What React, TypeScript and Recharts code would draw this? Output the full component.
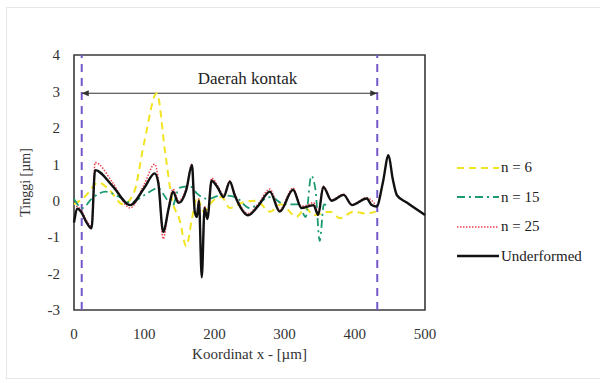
import {
	Line,
	LineChart,
	ReferenceArea,
	ReferenceLine,
	XAxis,
	YAxis,
} from "recharts";

// x positions [µm] and heights [µm]
const underX = [0, 5, 10, 18, 25, 30, 55, 80, 100, 115, 120, 127, 135, 141, 149, 160, 168, 172, 175, 178, 182, 186, 190, 196, 205, 213, 222, 229, 248, 262, 279, 293, 312, 324, 335, 341, 348, 355, 367, 384, 396, 417, 424, 431, 440, 448, 454, 460, 474, 500];
const underY = [-0.6, -0.22, -0.3, -0.6, -0.76, 0.84, 0.4, -0.12, 0.35, 0.75, 0.5, -0.85, -0.2, 0.25, -0.06, 0.3, 0.98, -0.3, -0.45, 0.0, -2.1, -0.2, -0.5, 0.55, 0.35, 0.1, 0.52, 0.15, -0.4, -0.15, 0.25, -0.3, 0.3, -0.2, -0.15, -0.12, -0.39, 0.38, 0.0, 0.16, -0.12, 0.06, -0.12, -0.16, 0.5, 1.25, 0.6, 0.15, -0.05, -0.39];

const n25X = [3, 10, 18, 25, 30, 55, 80, 100, 115, 120, 127, 135, 141, 149, 160, 168, 172, 175, 178, 182, 186, 190, 196, 205, 213, 222, 229, 248, 262, 279, 293, 312, 324, 335, 341, 348, 355, 367, 384, 396, 417, 430];
const n25Y = [-0.15, -0.25, -0.55, -0.7, 1.05, 0.5, -0.2, 0.45, 1.0, 0.6, -1.05, -0.15, 0.32, 0.0, 0.35, 1.0, -0.25, -0.4, 0.05, -2.05, -0.15, -0.45, 0.62, 0.4, 0.15, 0.55, 0.2, -0.35, -0.1, 0.32, -0.25, 0.35, -0.15, -0.1, -0.05, -0.3, 0.4, 0.02, 0.18, -0.1, 0.08, -0.12];

const n15X = [0, 12, 25, 45, 65, 80, 100, 120, 130, 140, 150, 165, 175, 190, 210, 230, 250, 280, 300, 320, 330, 338, 344, 350, 356, 362];
const n15Y = [0.05, -0.2, 0.05, 0.25, 0.1, -0.05, 0.15, 0.35, 0.1, -0.15, 0.35, 0.4, 0.2, 0.05, 0.15, 0.1, -0.2, 0.1, -0.1, -0.1, -0.45, 0.68, 0.3, -1.1, -0.1, -0.15];

const n6X = [0, 15, 35, 50, 70, 85, 100, 118, 130, 140, 150, 160, 168, 175, 185, 198, 210, 222, 240, 260, 279, 295, 317, 330, 341, 365, 379, 398, 415, 430];
const n6Y = [-0.1, 0.1, 0.5, 0.3, -0.1, 0.2, 1.6, 2.95, 1.3, 0.0, -0.5, -1.25, -0.5, 0.1, -0.3, 0.0, 0.1, -0.2, -0.05, 0.0, -0.3, -0.1, -0.44, -0.2, -0.4, -0.3, -0.48, -0.3, -0.35, -0.3];

const xTicks = [0, 100, 200, 300, 400, 500];
const yTicks = [-3, -2, -1, 0, 1, 2, 3, 4];
const contactStart = 11;
const contactEnd = 432;

const toPoints = (xs: number[], ys: number[]) => xs.map((x, i) => ({ x, y: ys[i] }));

const series = [
	{ name: "n = 6", data: toPoints(n6X, n6Y), color: "#f2e421", dash: "7 5", width: 2 },
	{ name: "n = 15", data: toPoints(n15X, n15Y), color: "#1c9a72", dash: "8 4 2 4", width: 1.8 },
	{ name: "n = 25", data: toPoints(n25X, n25Y), color: "#e8424c", dash: "1.5 1.5", width: 1.5 },
	{ name: "Underformed", data: toPoints(underX, underY), color: "#111111", dash: undefined, width: 2.4 },
];

const font = "'Times New Roman'";

function ArrowSegment(props: any) {
	const { x1, y1, x2, y2 } = props;
	const c = "#333";
	return (
		<g>
			<line x1={x1} y1={y1} x2={x2} y2={y2} stroke={c} strokeWidth={1.2} />
			<polygon points={`${x1},${y1} ${x1 + 7},${y1 - 3} ${x1 + 7},${y1 + 3}`} fill={c} />
			<polygon points={`${x2},${y2} ${x2 - 7},${y2 - 3} ${x2 - 7},${y2 + 3}`} fill={c} />
			<text x={(x1 + x2) / 2 + 18} y={y1 - 9} textAnchor="middle" style={{ fontFamily: font, fontSize: 17 }} fill="#222">
				Daerah kontak
			</text>
		</g>
	);
}

function ChartLegend() {
	return (
		<div
			style={{
				position: "absolute",
				left: 457,
				top: 153,
				fontFamily: font,
				fontSize: 15,
				color: "#222",
			}}
		>
			{series.map((s) => (
				<div key={s.name} style={{ display: "flex", alignItems: "center", height: 29.5 }}>
					<svg width={42} height={10}>
						<line x1={0} y1={5} x2={42} y2={5} stroke={s.color} strokeWidth={s.width} strokeDasharray={s.dash} />
					</svg>
					<span style={{ marginLeft: 2 }}>{s.name}</span>
				</div>
			))}
		</div>
	);
}

export default function App() {
	return (
		<div
			style={{
				position: "absolute",
				left: 0,
				top: 0,
				width: 600,
				height: 383,
				background: "#fff",
				fontFamily: font,
			}}
		>
			<div
				style={{
					position: "absolute",
					left: 6,
					top: 7,
					width: 600,
					height: 370,
					border: "1px solid #e6e6e6",
				}}
			/>
			<LineChart
				width={600}
				height={383}
				margin={{ top: 55, right: 175, bottom: 0, left: 20 }}
				style={{ position: "absolute", left: 0, top: 0, fontFamily: font }}
			>
				<XAxis
					dataKey="x"
					type="number"
					domain={[0, 500]}
					ticks={xTicks}
					axisLine={false}
					tickLine={false}
					tickMargin={12}
					height={73}
					tick={{ fontFamily: font, fontSize: 15, fill: "#333" }}
					label={{
						value: "Koordinat x - [µm]",
						position: "insideTop",
						offset: 38,
						fontSize: 15,
						fill: "#333",
						style: { fontFamily: font },
					}}
					allowDuplicatedCategory={false}
				/>
				<YAxis
					type="number"
					domain={[-3, 4]}
					ticks={yTicks}
					axisLine={false}
					tickLine={false}
					tickMargin={8}
					width={54}
					tick={{ fontFamily: font, fontSize: 15, fill: "#333" }}
					label={{
						value: "Tinggi [µm]",
						angle: -90,
						position: "insideLeft",
						offset: 5,
						fontSize: 14,
						fill: "#333",
						style: { textAnchor: "middle", fontFamily: font },
					}}
				/>
				<ReferenceArea
					x1={0}
					x2={500}
					y1={-3}
					y2={4}
					fill="none"
					stroke="#3a3a3a"
					strokeWidth={1.6}
				/>
				<ReferenceLine x={contactStart} stroke="#7558c8" strokeWidth={2} strokeDasharray="8 6" />
				<ReferenceLine x={contactEnd} stroke="#7558c8" strokeWidth={2} strokeDasharray="8 6" />
				<ReferenceLine
					segment={[
						{ x: contactStart, y: 2.95 },
						{ x: contactEnd, y: 2.95 },
					]}
					shape={ArrowSegment}
				/>
				{series.map((s) => (
					<Line
						key={s.name}
						data={s.data}
						dataKey="y"
						name={s.name}
						type="monotone"
						stroke={s.color}
						strokeWidth={s.width}
						strokeDasharray={s.dash}
						dot={false}
						isAnimationActive={false}
					/>
				))}
			</LineChart>
			<ChartLegend />
		</div>
	);
}
